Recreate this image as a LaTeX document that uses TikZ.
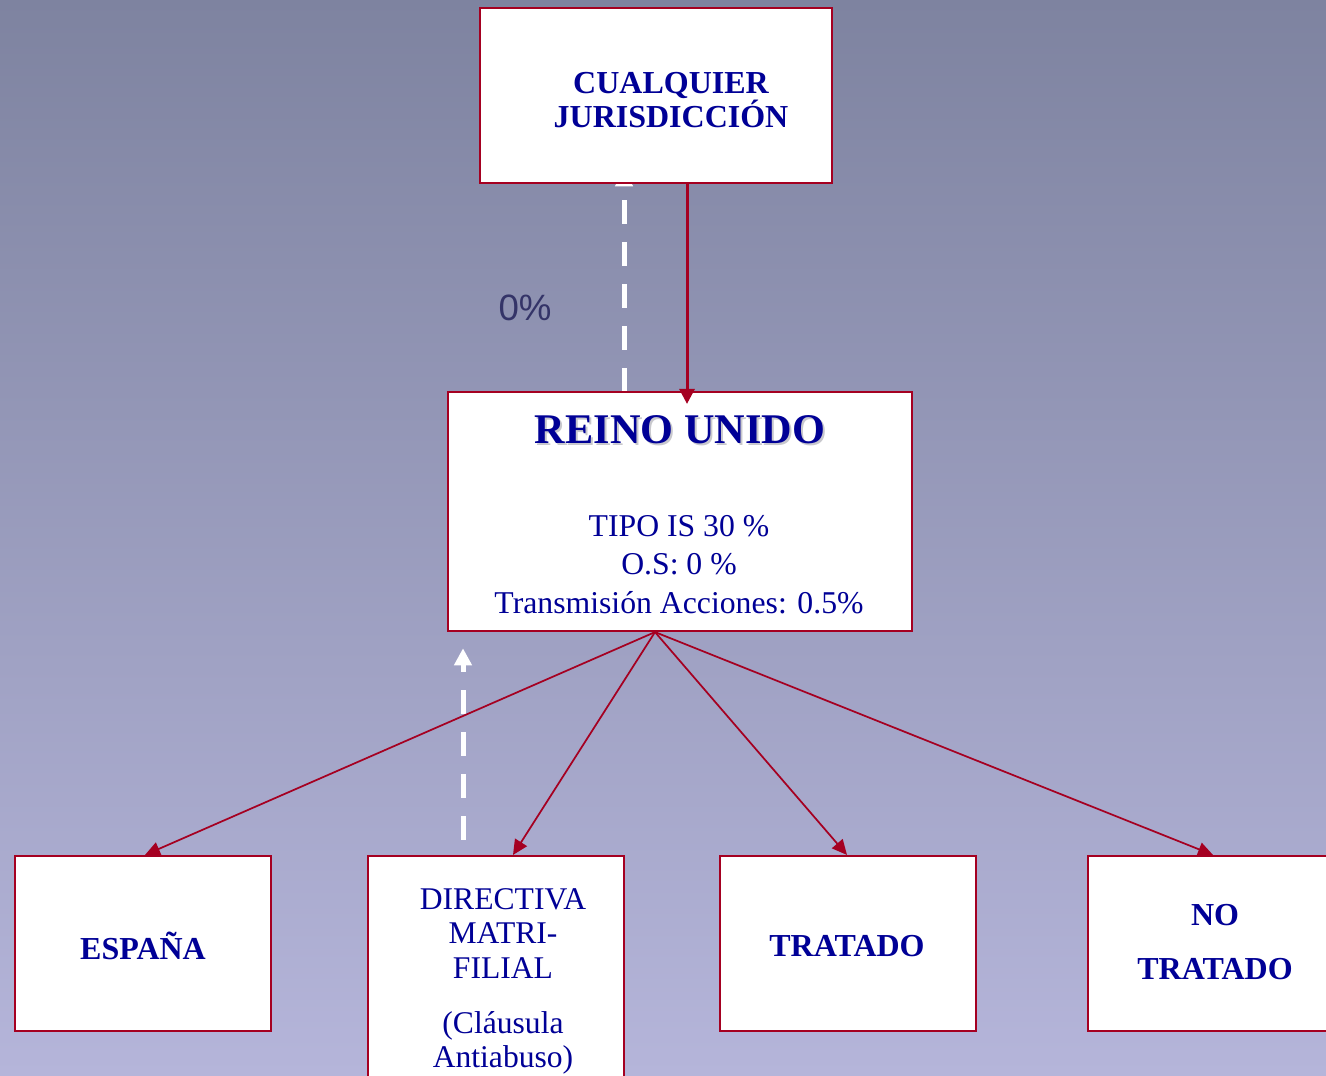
\documentclass[tikz,border=0pt]{standalone}
\usepackage{fontspec}
\setmainfont{Liberation Serif}
\newfontfamily\pctfont{Liberation Sans}
\usetikzlibrary{arrows.meta,calc}
\definecolor{bgtop}{RGB}{126,131,160}
\definecolor{bgbot}{RGB}{181,181,218}
\definecolor{bordred}{RGB}{165,0,33}
\definecolor{txtblue}{RGB}{0,0,150}
\definecolor{pcol}{RGB}{52,52,104}
\definecolor{shadowgray}{RGB}{200,200,205}
\begin{document}
\begin{tikzpicture}[x=0.75pt,y=-0.75pt,
  box/.style={draw=bordred,line width=1.6pt,fill=white,inner sep=0pt,minimum width=192pt,minimum height=131.25pt},
  lbl/.style={text=txtblue,align=center,inner sep=0pt},
  boldlbl/.style={lbl,font=\fontsize{24}{25.5}\selectfont\bfseries},
  reglbl/.style={lbl,font=\fontsize{23.7}{26}\selectfont},
  redarrow/.style={draw=bordred,line width=1.3pt,-{Triangle[width=10.5pt,length=11.25pt]}},
  whitedash/.style={draw=white,line width=3.75pt,dash pattern=on 18pt off 13.5pt,-{Triangle[width=12.75pt,length=12.75pt]}}
]
\clip (0,0) rectangle (1326,1075);
\useasboundingbox (0,0) rectangle (1326,1075);
\shade[top color=bgtop,bottom color=bgbot] (0,0) rectangle (1326,1075);

% box positions (coordinates only)
\coordinate (pcual) at (656,95.5);
\coordinate (preino) at (680,511.5);
\coordinate (pdir) at (496,973);

% dashed white arrows (behind boxes)
\node[inner sep=0pt,minimum width=264pt,minimum height=131.25pt] (cualghost) at (pcual) {};
\node[inner sep=0pt,minimum width=348pt,minimum height=179.25pt] (reinoghost) at (preino) {};
\node[inner sep=0pt,minimum width=192pt,minimum height=175.5pt] (dirghost) at (pdir) {};
\draw[whitedash] ($(reinoghost.north)+(-56,0)$) -- ($(cualghost.south)+(-32,-14)$);
\draw[whitedash] ($(dirghost.north)+(-33,-16)$) -- ($(reinoghost.south)+(-217,17)$);

% boxes
\node[box,minimum width=264pt,minimum height=131.25pt] (cual) at (pcual) {};
\node[box,minimum width=348pt,minimum height=179.25pt] (reino) at (preino) {};
\node[box] (esp) at (143,943.5) {};
\node[box,minimum height=175.5pt] (dir) at (pdir) {};
\node[box] (trat) at (848,943.5) {};
\node[box] (notr) at (1216,943.5) {};

% texts
\node[boldlbl] (tcual) at (671,100) {CUALQUIER\\JURISDICCIÓN};
\node[lbl,font=\fontsize{31.7}{34}\selectfont\bfseries,text=shadowgray] (treinosh) at (682,432) {REINO UNIDO};
\node[lbl,font=\fontsize{31.7}{34}\selectfont\bfseries] (treino) at (680,430) {REINO UNIDO};
\node[lbl,font=\fontsize{23.8}{28.9}\selectfont] (tdatos) at (679,564.5) {TIPO IS 30 \%\\O.S: 0 \%\\Transmisión Acciones: 0.5\%};
\node[boldlbl] (tesp) at (143,946) {ESPAÑA};
\node[reglbl] (tdir) at (503,981.5) {DIRECTIVA\\MATRI-\\FILIAL\\[15pt](Cláusula\\Antiabuso)};
\node[boldlbl] (ttrat) at (847,946) {TRATADO};
\node[lbl,font=\fontsize{24}{40.5}\selectfont\bfseries] (tnotr) at (1215,942.5) {NO\\TRATADO};
\node[text=pcol,font=\pctfont\fontsize{27.5}{30}\selectfont,inner sep=0pt] (tpct) at (525,308) {0\%};

% red arrows
\draw[bordred,line width=2.25pt,-{Triangle[width=11.25pt,length=11.25pt]}] ($(cual.south)+(31,0)$) -- ($(reino.north)+(7,13)$);
\coordinate (src) at ($(reino.south)+(-25,0)$);
\draw[redarrow] (src) -- ($(esp.north)+(2,0)$);
\draw[redarrow] (src) -- ($(dir.north)+(17,0)$);
\draw[redarrow] (src) -- ($(trat.north)+(-1,0)$);
\draw[redarrow] (src) -- ($(notr.north)+(-3,0)$);
\end{tikzpicture}
\end{document}
